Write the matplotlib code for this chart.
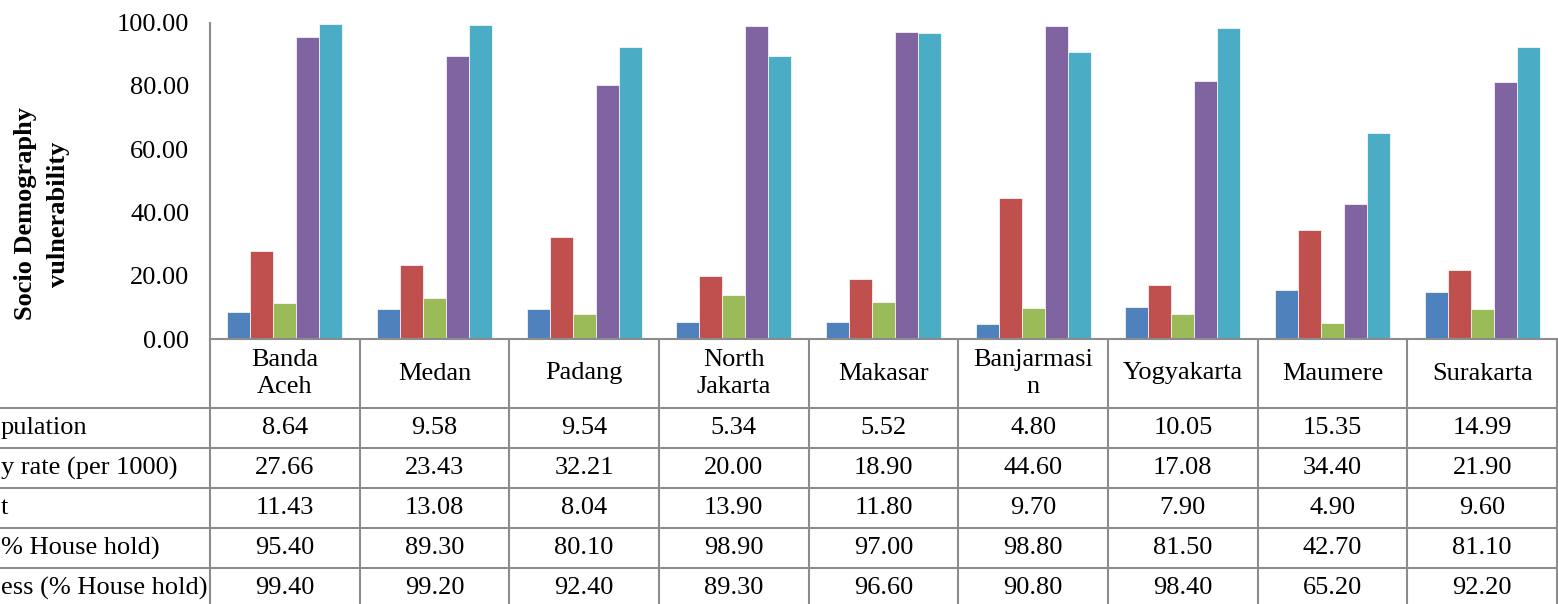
import numpy as np
import matplotlib
matplotlib.use("Agg")
import matplotlib.pyplot as plt
from matplotlib.transforms import blended_transform_factory

plt.rcParams["font.family"] = ["Liberation Serif", "DejaVu Serif"]

# ---------------------------------------------------------------------------
# data
# ---------------------------------------------------------------------------
cities = ["Banda\nAceh", "Medan", "Padang", "North\nJakarta", "Makasar",
          "Banjarmasi\nn", "Yogyakarta", "Maumere", "Surakarta"]
# row labels as they appear (left part is cut off in the source figure)
row_labels = ["pulation", "y rate (per 1000)", "t",
              "% House hold)", "ess (% House hold)"]
poor_pop = [8.64, 9.58, 9.54, 5.34, 5.52, 4.80, 10.05, 15.35, 14.99]
mortality = [27.66, 23.43, 32.21, 20.00, 18.90, 44.60, 17.08, 34.40, 21.90]
unemployment = [11.43, 13.08, 8.04, 13.90, 11.80, 9.70, 7.90, 4.90, 9.60]
electricity = [95.40, 89.30, 80.10, 98.90, 97.00, 98.80, 81.50, 42.70, 81.10]
water = [99.40, 99.20, 92.40, 89.30, 96.60, 90.80, 98.40, 65.20, 92.20]

series = [poor_pop, mortality, unemployment, electricity, water]
colors = ["#4F81BD", "#C0504D", "#9BBB59", "#8064A2", "#4BACC6"]

W, H = 1558, 604
FS = 19
GRID = "#8c8c8c"

fig = plt.figure(figsize=(W / 100, H / 100), dpi=100)

# plot area in pixel terms
x0, x1 = 210, 1557
y_top, y_base = 22.5, 339
ax = fig.add_axes([x0 / W, 1 - y_base / H, (x1 - x0) / W, (y_base - y_top) / H])

n = len(series)
bw = 1 / (n + 1.5)  # excel gap width 150 %
x = np.arange(len(cities))
for k, (vals, col) in enumerate(zip(series, colors)):
    ax.bar(x + (k - (n - 1) / 2) * bw, vals, width=bw, color=col,
           edgecolor="white", linewidth=0.5, zorder=2)

ax.set_xlim(-0.5, len(cities) - 0.5)
ax.set_ylim(0, 100)
ax.set_yticks(np.arange(0, 101, 20))
ax.set_yticklabels([f"{v:.2f}" for v in np.arange(0, 101, 20)], fontsize=FS)
ax.tick_params(axis="y", length=0, pad=15)
ax.set_xticks([])
for s in ["top", "right"]:
    ax.spines[s].set_visible(False)
for s in ["left", "bottom"]:
    ax.spines[s].set_color(GRID)
    ax.spines[s].set_linewidth(1.5)

fig.text(42 / W, 1 - 214 / H, "Socio Demography\nvulnerability", rotation=90,
         ha="center", va="center", fontsize=FS, fontweight="bold",
         linespacing=1.5)

# ---------------------------------------------------------------------------
# data table under the chart
# ---------------------------------------------------------------------------
tax = fig.add_axes([0, 0, 1, 1], zorder=-1)
tax.set_xlim(0, W)
tax.set_ylim(H, 0)
tax.axis("off")
trans = blended_transform_factory(ax.transData, tax.transData)

head_bot = 408
row_h = 40
row_lines = [head_bot + i * row_h for i in range(len(series) + 1)]

# vertical column borders, from x axis down to the bottom
for b in np.arange(-0.5, len(cities), 1.0):
    tax.plot([b, b], [y_base, H + 10], color=GRID, lw=1.5, transform=trans,
             clip_on=False)
# horizontal row borders, across the label column as well
for y in row_lines:
    tax.plot([0, x1], [y, y], color=GRID, lw=1.5)

for i, name in enumerate(cities):
    tax.text(i, (y_base + head_bot) / 2, name, ha="center", va="center",
             fontsize=FS, transform=trans, linespacing=1.25)
    for r, vals in enumerate(series):
        tax.text(i, row_lines[r] + row_h / 2, f"{vals[i]:.2f}", ha="center",
                 va="center", fontsize=FS, transform=trans)

for r, lab in enumerate(row_labels):
    tax.text(1, row_lines[r] + row_h / 2, lab, ha="left", va="center",
             fontsize=FS)

fig.savefig("out.png", dpi=100)
